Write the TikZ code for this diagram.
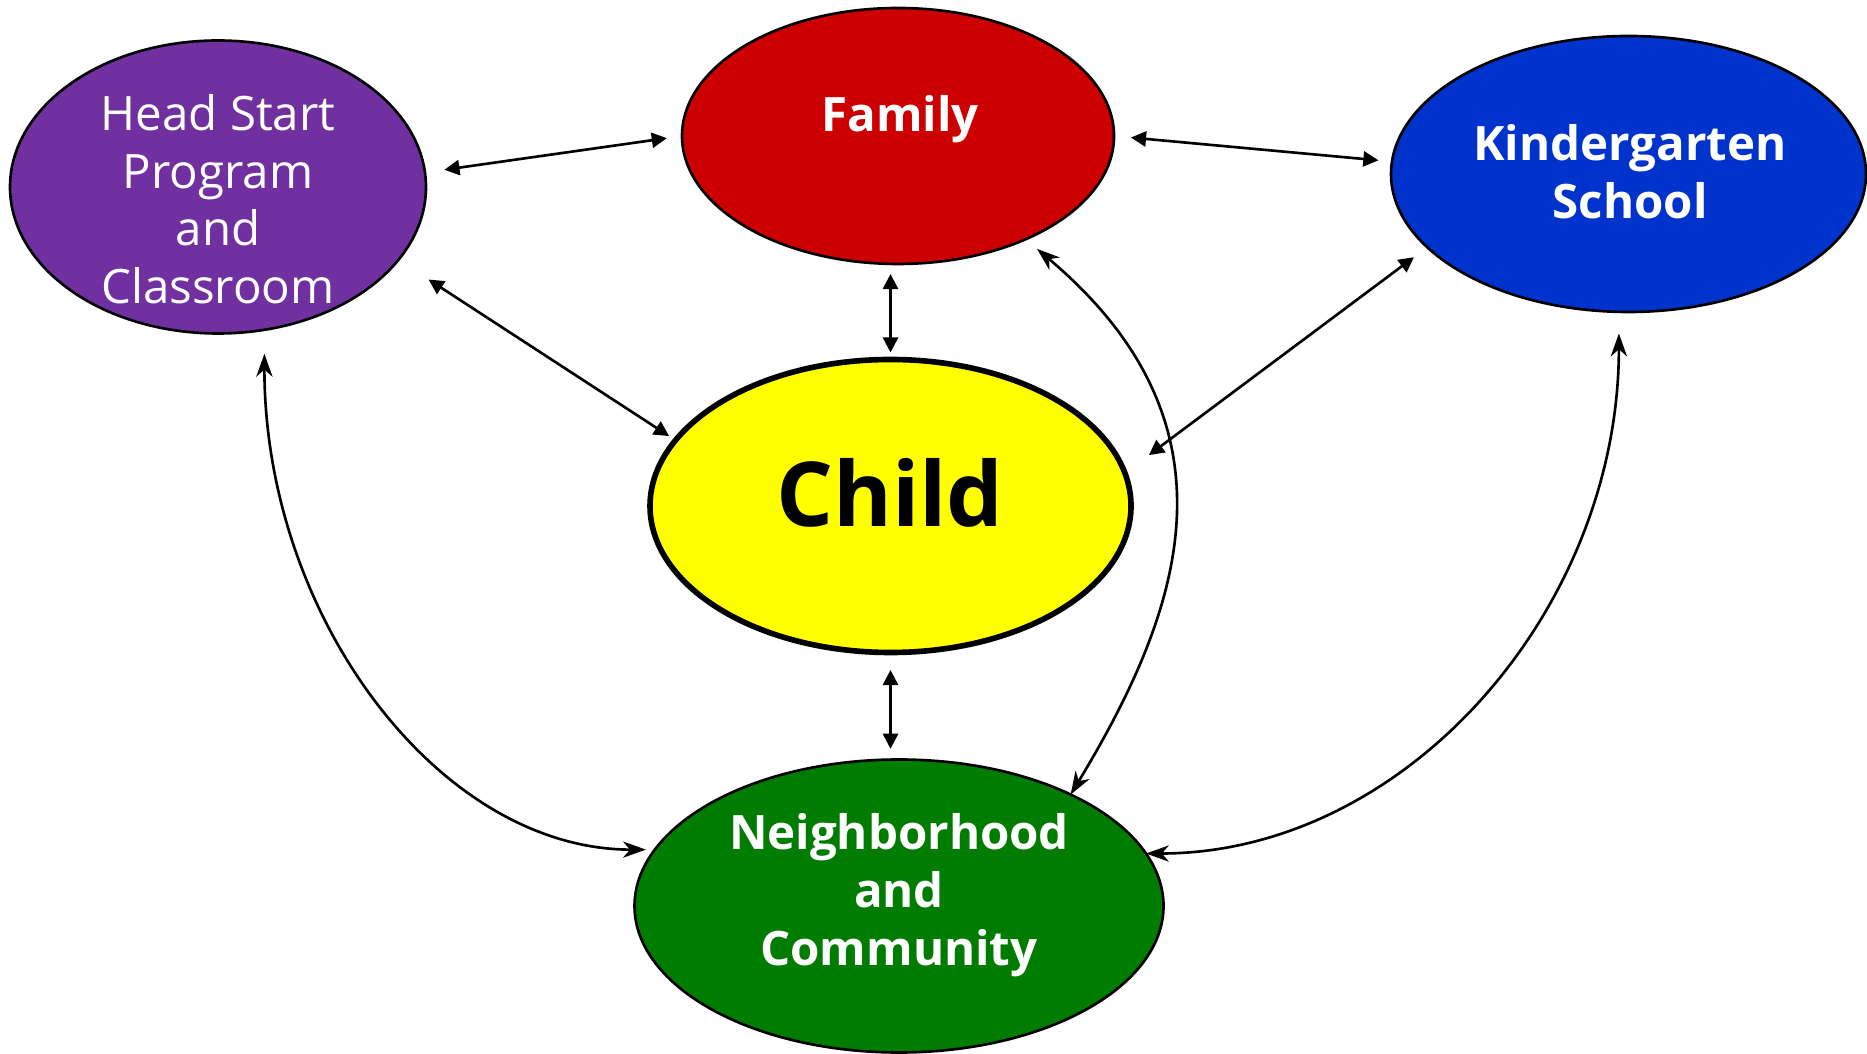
\documentclass[tikz,border=0pt]{standalone}
\usepackage{fontspec}
\setmainfont{Open Sans}
\usetikzlibrary{shapes.geometric,arrows.meta}
\definecolor{hspurple}{RGB}{112,48,160}
\definecolor{famred}{RGB}{204,0,0}
\definecolor{kinblue}{RGB}{0,51,204}
\definecolor{kidyellow}{RGB}{255,255,0}
\definecolor{nbgreen}{RGB}{0,125,0}
\begin{document}
\begin{tikzpicture}[x=0.1mm, y=-0.1mm,
  blob/.style={ellipse, draw, line width=0.75pt, inner sep=0pt, outer sep=0pt},
  lbl/.style={text=white, font=\fontsize{13.5}{16.4}\selectfont, align=center, anchor=base, inner sep=0pt},
  blbl/.style={lbl, font=\fontsize{13.5}{16.4}\selectfont\bfseries},
  sarr/.style={line width=0.75pt, {Triangle[length=4.3pt,width=4.3pt]}-{Triangle[length=4.3pt,width=4.3pt]}},
  carr/.style={line width=0.75pt, {Stealth[length=6.5pt,width=4.6pt,inset=2pt]}-{Stealth[length=6.5pt,width=4.6pt,inset=2pt]}}]
\useasboundingbox (0,0) rectangle (1867,1054);
% circles
\node[blob, fill=hspurple, minimum width=41.6mm, minimum height=29.3mm] (head) at (218,187){};
\node[blob, fill=famred, minimum width=43.2mm, minimum height=25.6mm] (family) at (898,136){};
\node[blob, fill=kinblue, minimum width=47.5mm, minimum height=27.6mm] (kinder) at (1628.5,174){};
\node[blob, fill=kidyellow, line width=1.6pt, minimum width=48.1mm, minimum height=29.3mm] (child) at (890.5,506){};
\node[blob, fill=nbgreen, minimum width=52.9mm, minimum height=29.3mm] (neigh) at (899,906){};
% labels (base = last line)
\node[lbl] (headtxt) at (218,303.3){Head Start\\Program\\and\\Classroom};
\node[blbl] (famtxt) at (900,131.7){Family};
\node[blbl] (kintxt) at (1630,218.3){Kindergarten\\School};
\node[blbl, text=black, font=\fontsize{25.5}{30}\selectfont\bfseries] (kidtxt) at (890,527){Child};
\node[blbl] (nbtxt) at (899,965){Neighborhood\\and\\Community};
% straight links
\draw[sarr, shorten <=1.96mm, shorten >=1.53mm] (head.4.5) -- (family.180);
\draw[sarr, shorten <=1.7mm, shorten >=1.36mm] (family.0) -- (kinder.177.4);
\draw[sarr, shorten <=3.6mm, shorten >=0.77mm] (head.-22.7) -- (child.163.9);
\draw[sarr, shorten <=1.66mm, shorten >=3mm] (kinder.200.9) -- (child.8.7);
\draw[sarr, shorten <=1mm, shorten >=0.7mm] (family.south -| child.north) -- (child.north);
\draw[sarr, shorten <=1.75mm, shorten >=1.07mm] (child.south) -- (child.south |- neigh.north);
% curved links
\draw[carr, shorten <=2.4mm, shorten >=0.9mm] (head.-72.2) .. controls +(0,288) and +(-215,0) .. (neigh.167.7);
\draw[carr, shorten <=2.16mm] (kinder.-94.8) .. controls +(0,298) and +(260,0) .. (neigh.12.3);
\draw[carr, shorten <=1.5mm] (family.-39.9) .. controls +(221,186) and +(112,-185) .. (neigh.33.6);
\end{tikzpicture}
\end{document}
